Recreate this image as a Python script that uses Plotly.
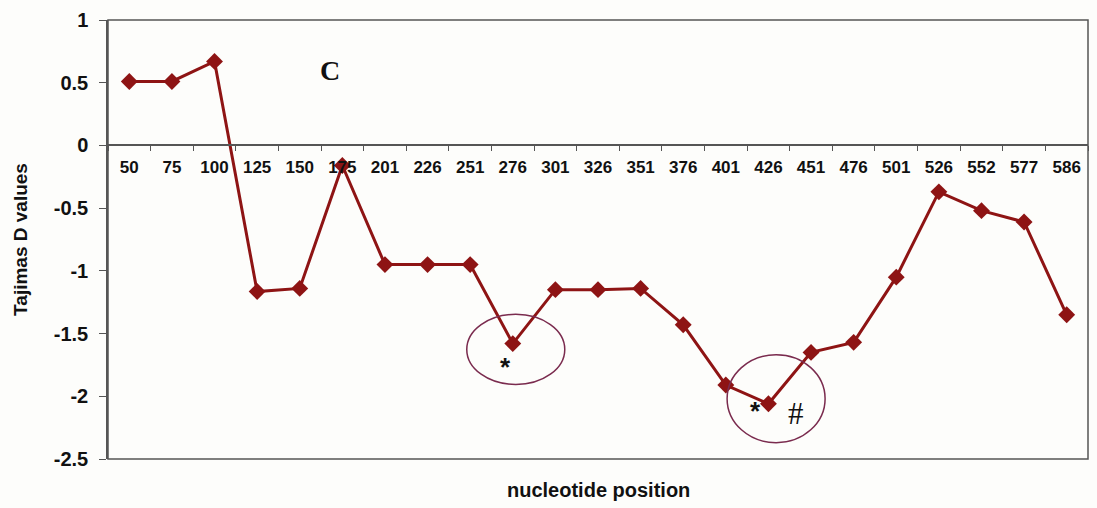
import plotly.graph_objects as go

positions = ["50", "75", "100", "125", "150", "175", "201", "226", "251", "276", "301",
             "326", "351", "376", "401", "426", "451", "476", "501", "526", "552", "577", "586"]
tajima_d = [0.51, 0.51, 0.67, -1.165, -1.14, -0.16, -0.95, -0.95, -0.95, -1.58, -1.15,
            -1.15, -1.14, -1.43, -1.91, -2.06, -1.65, -1.57, -1.05, -0.37, -0.52, -0.61, -1.35]
y_ticks = [1, 0.5, 0, -0.5, -1, -1.5, -2, -2.5]
y_tick_text = ["1", "0.5", "0", "-0.5", "-1", "-1.5", "-2", "-2.5"]

line_color = "#8E1414"
ring_color = "#7A2B4E"
frame_color = "#555555"

fig = go.Figure()
fig.add_trace(go.Scatter(
    x=positions, y=tajima_d, mode="lines+markers",
    line=dict(color=line_color, width=3),
    marker=dict(symbol="diamond", size=13, color=line_color),
    showlegend=False, hoverinfo="x+y"))

fig.update_layout(
    width=1097, height=508,
    margin=dict(l=108, r=9, t=15, b=49),
    paper_bgcolor="#fdfdfb", plot_bgcolor="#fdfdfb",
    font=dict(family="Arial, Liberation Sans, sans-serif", color="#111111"),
    xaxis=dict(
        type="category", anchor="free", position=2.5 / 3.5,
        range=[-0.5, len(positions) - 0.5],
        showline=True, linecolor=frame_color, linewidth=1.5,
        ticks="outside", tickson="boundaries", ticklen=5, tickcolor=frame_color,
        ticklabelstandoff=6,
        tickfont=dict(size=17, family="Arial, Liberation Sans, sans-serif", weight="bold", color="#111111"),
        showgrid=False, zeroline=False,
    ),
    yaxis=dict(
        range=[-2.5, 1], tickvals=y_ticks, ticktext=y_tick_text,
        showline=True, linecolor=frame_color, linewidth=1.5,
        ticks="outside", ticklen=7, tickcolor=frame_color,
        ticklabelstandoff=7,
        tickfont=dict(size=20, family="Arial, Liberation Sans, sans-serif", weight="bold", color="#111111"),
        showgrid=False, zeroline=False,
        title=dict(text="<b>Tajimas D values</b>", font=dict(size=19), standoff=21),
    ),
)

# frame around plot
fig.add_shape(type="rect", xref="paper", yref="paper", x0=0, x1=1, y0=0, y1=1,
              line=dict(color=frame_color, width=1.5))

# x-axis title
fig.add_annotation(text="<b>nucleotide position</b>", xref="paper", yref="paper",
                   x=0.5, y=-0.07, yanchor="middle", showarrow=False,
                   font=dict(size=20, color="#111111"))

# panel letter
fig.add_annotation(text="<b>C</b>", xref="x", yref="y", x=4.7, y=0.6, showarrow=False,
                   font=dict(size=28, family="Liberation Serif, Times New Roman, serif", color="#111111"))

# ellipses
fig.add_shape(type="circle", xref="x", yref="y", x0=7.92, x1=10.22, y0=-1.906, y1=-1.346,
              line=dict(color=ring_color, width=1.5))
fig.add_shape(type="circle", xref="x", yref="y", x0=14.03, x1=16.33, y0=-2.37, y1=-1.669,
              line=dict(color=ring_color, width=1.5))

# symbols
fig.add_annotation(text="<b>*</b>", xref="x", yref="y", x=8.82, y=-1.77, showarrow=False,
                   font=dict(size=26, family="Liberation Sans, Arial, sans-serif", color="#111111"))
fig.add_annotation(text="<b>*</b>", xref="x", yref="y", x=14.7, y=-2.12, showarrow=False,
                   font=dict(size=26, family="Liberation Sans, Arial, sans-serif", color="#111111"))
fig.add_annotation(text="#", xref="x", yref="y", x=15.65, y=-2.14, showarrow=False,
                   font=dict(size=31, family="Liberation Serif, Times New Roman, serif", color="#111111"))

fig.write_html("out.html")
